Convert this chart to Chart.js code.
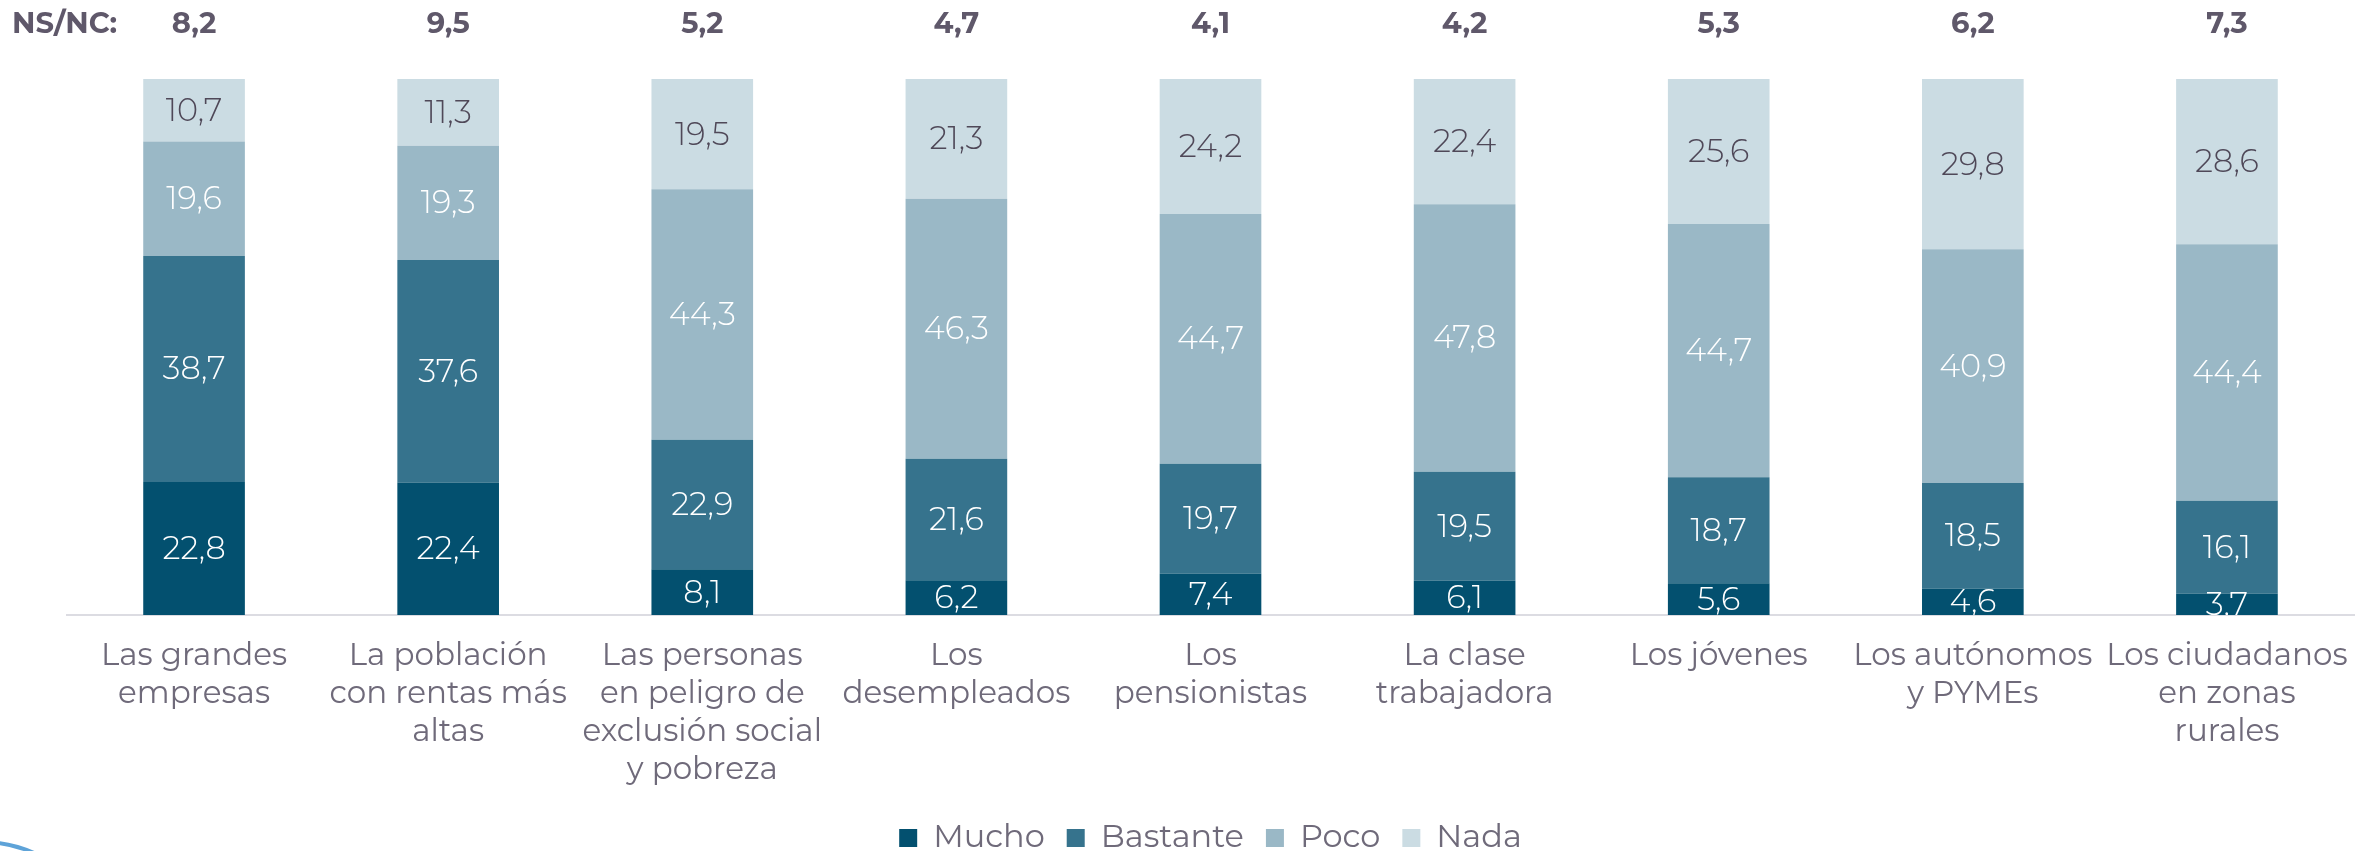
<!DOCTYPE html>
<html lang="es">
<head>
  <meta charset="UTF-8">
  <title>Valoración por colectivos</title>
  <script src="https://cdn.jsdelivr.net/npm/chart.js"></script>
  <style>
    html, body {
      margin: 0;
      padding: 0;
      background: #ffffff;
    }
    #wrap {
      width: 2379px;
      height: 851px;
      position: relative;
    }
  </style>
</head>
<body>
  <div id="wrap">
    <canvas id="chart" width="2379" height="851"></canvas>
  </div>

  <script>
    const FONT = "Montserrat, 'Open Sans', sans-serif";

    // Categories (multi-line labels)
    const categories = [
      ['Las grandes', 'empresas'],
      ['La población', 'con rentas más', 'altas'],
      ['Las personas', 'en peligro de', 'exclusión social', 'y pobreza'],
      ['Los', 'desempleados'],
      ['Los', 'pensionistas'],
      ['La clase', 'trabajadora'],
      ['Los jóvenes'],
      ['Los autónomos', 'y PYMEs'],
      ['Los ciudadanos', 'en zonas', 'rurales']
    ];

    // Answers (%)
    const mucho    = [22.8, 22.4, 8.1, 6.2, 7.4, 6.1, 5.6, 4.6, 3.7];
    const bastante = [38.7, 37.6, 22.9, 21.6, 19.7, 19.5, 18.7, 18.5, 16.1];
    const poco     = [19.6, 19.3, 44.3, 46.3, 44.7, 47.8, 44.7, 40.9, 44.4];
    const nada     = [10.7, 11.3, 19.5, 21.3, 24.2, 22.4, 25.6, 29.8, 28.6];
    const nsnc     = [8.2, 9.5, 5.2, 4.7, 4.1, 4.2, 5.3, 6.2, 7.3];

    const seriesNames  = ['Mucho', 'Bastante', 'Poco', 'Nada'];
    const seriesValues = [mucho, bastante, poco, nada];
    const seriesColors = ['#03506f', '#36738d', '#9ab8c6', '#cbdce3'];
    const labelColors  = ['#ffffff', '#ffffff', '#ffffff', '#4f4858'];

    // bars are 100% stacked over the answers that exclude NS/NC
    const totals = categories.map((c, i) => seriesValues.reduce((s, arr) => s + arr[i], 0));

    const datasets = seriesNames.map((name, k) => ({
      label: name,
      data: seriesValues[k].map((v, i) => v / totals[i] * 100),
      raw: seriesValues[k],
      backgroundColor: seriesColors[k],
      labelColor: labelColors[k],
      borderWidth: 0,
      barPercentage: 0.4,
      categoryPercentage: 1.0
    }));

    const fmt = v => v.toFixed(1).replace('.', ',');

    // value labels inside each segment + NS/NC row above the bars
    const labelsPlugin = {
      id: 'segmentLabels',
      afterDatasetsDraw(chart) {
        const { ctx, chartArea } = chart;
        ctx.save();
        ctx.beginPath();
        ctx.rect(chartArea.left, chartArea.top, chartArea.right - chartArea.left, chartArea.bottom - chartArea.top);
        ctx.clip();
        ctx.font = `300 32px ${FONT}`;
        ctx.textAlign = 'center';
        ctx.textBaseline = 'middle';
        chart.data.datasets.forEach((ds, k) => {
          const meta = chart.getDatasetMeta(k);
          meta.data.forEach((bar, i) => {
            const mid = (bar.y + bar.base) / 2;
            ctx.fillStyle = ds.labelColor;
            ctx.fillText(fmt(ds.raw[i]), bar.x, mid + 1);
          });
        });
        ctx.restore();

        // NS/NC row
        const xScale = chart.scales.x;
        ctx.save();
        ctx.font = `bold 29px ${FONT}`;
        ctx.fillStyle = '#5f586a';
        ctx.textBaseline = 'middle';
        ctx.textAlign = 'left';
        ctx.fillText('NS/NC:', 12, 24);
        ctx.textAlign = 'center';
        nsnc.forEach((v, i) => {
          ctx.fillText(fmt(v), xScale.getPixelForValue(i), 24);
        });
        ctx.restore();

        // decorative arc in the lower-left corner
        ctx.save();
        ctx.strokeStyle = '#5ea3d8';
        ctx.lineWidth = 4;
        ctx.beginPath();
        ctx.moveTo(-2, 843);
        ctx.quadraticCurveTo(16, 845, 34, 853);
        ctx.stroke();
        ctx.restore();
      }
    };

    const chart = new Chart(document.getElementById('chart'), {
      type: 'bar',
      data: {
        labels: categories,
        datasets: datasets
      },
      options: {
        responsive: false,
        animation: false,
        layout: {
          padding: { top: 79, left: 67, right: 25, bottom: -13 }
        },
        plugins: {
          legend: {
            position: 'bottom',
            labels: {
              boxWidth: 18,
              boxHeight: 18,
              padding: 22,
              color: '#6f6a7a',
              font: { family: FONT, size: 32 }
            }
          },
          tooltip: { enabled: false }
        },
        scales: {
          x: {
            stacked: true,
            grid: { display: false, drawTicks: false },
            border: { color: '#dcdce2', width: 2 },
            ticks: {
              color: '#6f6a7a',
              padding: 22,
              maxRotation: 0,
              autoSkip: false,
              font: { family: FONT, size: 31, lineHeight: '38px' }
            },
            afterFit(scale) {
              scale.height = 185;
            }
          },
          y: {
            stacked: true,
            display: false,
            min: 0,
            max: 100
          }
        }
      },
      plugins: [labelsPlugin]
    });
  </script>
</body>
</html>
